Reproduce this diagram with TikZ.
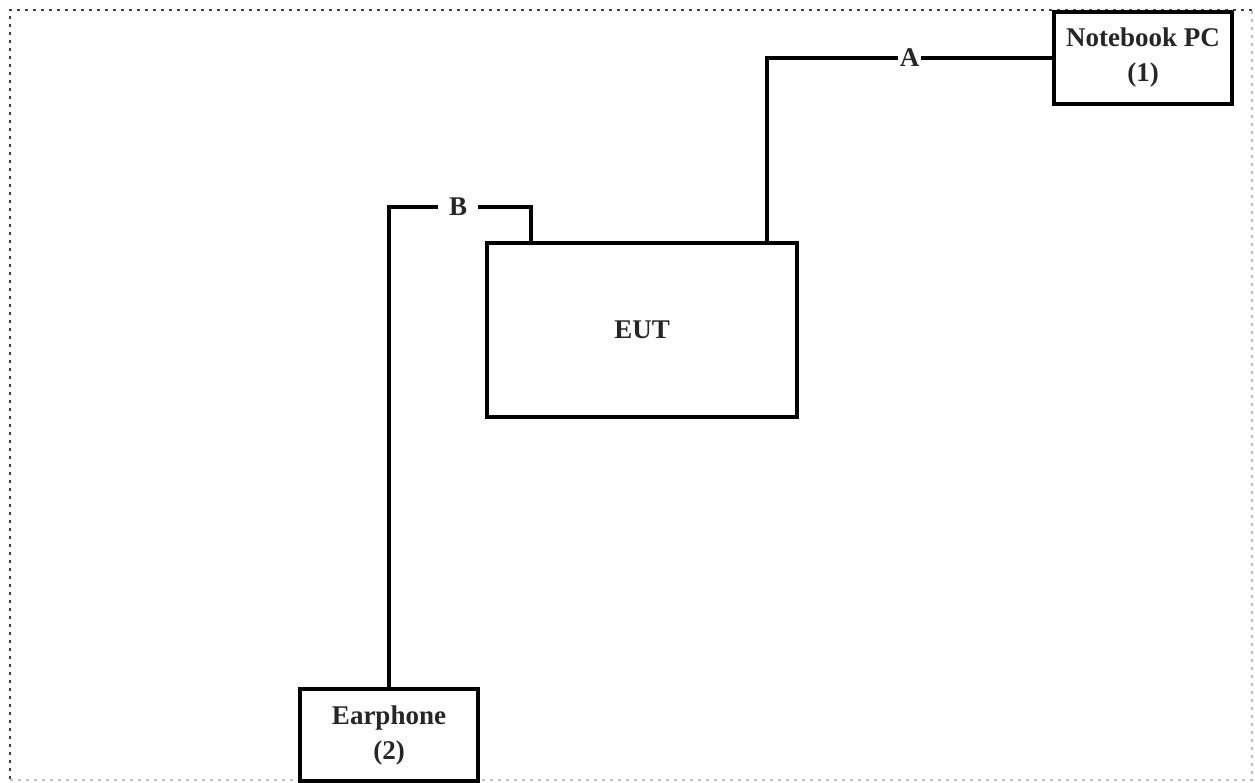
\documentclass[tikz,border=0pt]{standalone}
\usepackage{fontspec}
\setmainfont{Liberation Serif}
\begin{document}
\begin{tikzpicture}[x=1pt,y=-1pt,line join=miter,
  box/.style={draw=black,fill=white,line width=3.2pt,align=center,inner sep=0pt,font=\fontsize{27}{35}\selectfont\bfseries,text=black!85},
  cable/.style={draw=black,line width=3.2pt},
  tag/.style={fill=white,inner ysep=2pt,font=\fontsize{27}{35}\selectfont\bfseries,text=black!85}]
\useasboundingbox (0,0) rectangle (1255,782);
\draw[black!75,line width=2.8pt,dash pattern=on 2.6pt off 5.4pt] (1252,10) -- (10,10) -- (10,780);
\draw[black!25,line width=2pt,dash pattern=on 3pt off 5pt] (10,780) -- (1252,780) -- (1252,10);
\node[box,minimum width=178pt,minimum height=92pt] (pc) at (1143,58) {Notebook PC\\(1)};
\node[box,minimum width=310pt,minimum height=174pt] (eut) at (642,330) {EUT};
\node[box,minimum width=178pt,minimum height=92pt] (ear) at (389,735) {Earphone\\(2)};
\coordinate (aup) at (767,0);
\coordinate (bup) at (531,0);
\coordinate (bcorner) at (389,207);
\draw[cable] (eut.north -| aup) |- node[tag,pos=0.75,inner xsep=2pt] {A} (pc.west);
\draw[cable] (eut.north -| bup) |- node[tag,pos=0.757,inner xsep=11pt] {B} (bcorner) -- (ear.north);
\end{tikzpicture}
\end{document}
